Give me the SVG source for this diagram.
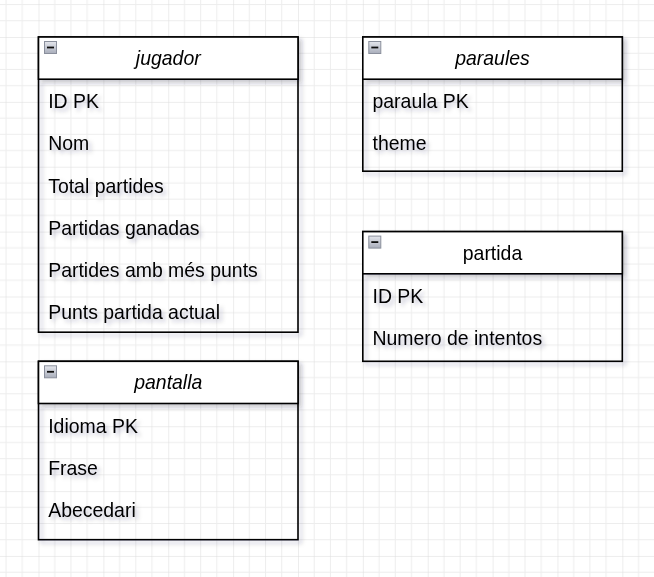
<svg xmlns="http://www.w3.org/2000/svg" width="654" height="577" viewBox="0 0 654 577">
<defs>
<pattern id="grid" x="38.5" y="37" width="64.87" height="64.87" patternUnits="userSpaceOnUse">
<path d="M16.22 0V64.87M32.43 0V64.87M48.65 0V64.87M0 16.22H64.87M0 32.43H64.87M0 48.65H64.87" stroke="#ededed" stroke-width="1" fill="none"/>
<path d="M0 0V64.87M0 0H64.87" stroke="#dcdcdc" stroke-width="1" fill="none"/>
</pattern>
<filter id="sh" x="-10%" y="-10%" width="130%" height="130%">
<feDropShadow dx="3" dy="3" stdDeviation="2" flood-color="#202040" flood-opacity="0.25"/>
</filter>
<linearGradient id="ig" x1="0" y1="0" x2="0" y2="1">
<stop offset="0" stop-color="#e4e6ec"/>
<stop offset="1" stop-color="#a9aebb"/>
</linearGradient>
<g id="icon">
<rect x="0.5" y="0.5" width="12" height="12" fill="url(#ig)" stroke="#8a8f9c" stroke-width="1"/>
<path d="M3 6.5H10" stroke="#111" stroke-width="1.8"/>
</g>
</defs>
<style>
.box{fill:none;stroke:#000;stroke-width:1.6}
.hdr{fill:#fff;stroke:#000;stroke-width:1.6}
.t{font-family:"Liberation Sans",Arial,sans-serif;font-size:19.46px;fill:#000}
.ti{font-family:"Liberation Sans",Arial,sans-serif;font-size:19.46px;fill:#000;text-anchor:middle}
.it{font-style:italic}
</style>
<rect width="654" height="577" fill="#fff"/>
<rect width="654" height="577" fill="url(#grid)"/>
<g id="connectors"></g>
<g id="jugador" filter="url(#sh)">
<rect class="box" x="38.5" y="37" width="259.5" height="295.2"/>
<rect class="hdr" x="38.5" y="37" width="259.5" height="42.2"/>
<use href="#icon" x="44" y="41"/>
<text class="ti it" x="168.25" y="65">jugador</text>
<text class="t" x="48.2" y="108.2">ID PK</text>
<text class="t" x="48.2" y="150.4">Nom</text>
<text class="t" x="48.2" y="192.5">Total partides</text>
<text class="t" x="48.2" y="234.7">Partidas ganadas</text>
<text class="t" x="48.2" y="276.9">Partides amb més punts</text>
<text class="t" x="48.2" y="319">Punts partida actual</text>
</g>
<g id="pantalla" filter="url(#sh)">
<rect class="box" x="38.5" y="361.3" width="259.5" height="178.4"/>
<rect class="hdr" x="38.5" y="361.3" width="259.5" height="42.2"/>
<use href="#icon" x="44" y="365.3"/>
<text class="ti it" x="168.25" y="389.3">pantalla</text>
<text class="t" x="48.2" y="432.5">Idioma PK</text>
<text class="t" x="48.2" y="474.7">Frase</text>
<text class="t" x="48.2" y="516.8">Abecedari</text>
</g>
<g id="paraules" filter="url(#sh)">
<rect class="box" x="362.8" y="37" width="259.5" height="134.2"/>
<rect class="hdr" x="362.8" y="37" width="259.5" height="42.2"/>
<use href="#icon" x="368.3" y="41"/>
<text class="ti it" x="492.5" y="65">paraules</text>
<text class="t" x="372.5" y="108.2">paraula PK</text>
<text class="t" x="372.5" y="150.4">theme</text>
</g>
<g id="partida" filter="url(#sh)">
<rect class="box" x="362.8" y="231.6" width="259.5" height="129.7"/>
<rect class="hdr" x="362.8" y="231.6" width="259.5" height="42.2"/>
<use href="#icon" x="368.3" y="235.6"/>
<text class="ti" x="492.5" y="259.6">partida</text>
<text class="t" x="372.5" y="302.8">ID PK</text>
<text class="t" x="372.5" y="345">Numero de intentos</text>
</g>
</svg>
